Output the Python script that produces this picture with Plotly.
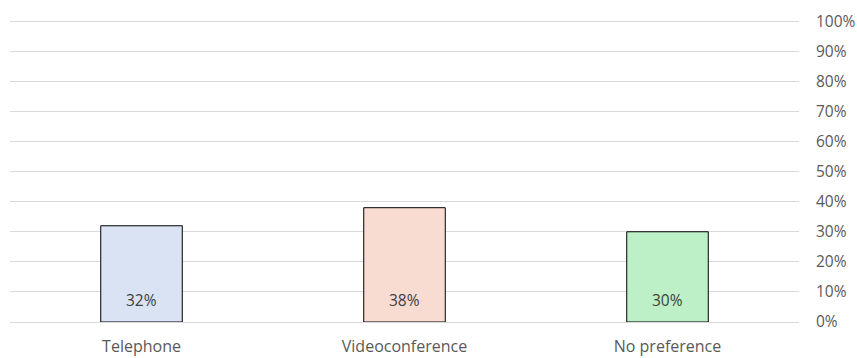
import plotly.graph_objects as go

categories = ["Telephone", "Videoconference", "No preference"]
values = [0.32, 0.38, 0.30]
labels = ["32%", "38%", "30%"]
colors = ["#DAE3F3", "#F8DCD2", "#BDF0C6"]

FONT = "Open Sans"
fig = go.Figure()
fig.add_trace(go.Bar(
    x=categories, y=values, width=0.31,
    marker=dict(color=colors, line=dict(color="#000000", width=1)),
    hoverinfo="skip",
))
for c, v, t in zip(categories, values, labels):
    fig.add_annotation(x=c, y=0, text=t, showarrow=False, yanchor="bottom",
                       yshift=9, font=dict(size=15.5, color="#404040", family=FONT))

fig.update_layout(
    width=857, height=358,
    margin=dict(l=10, r=58, t=20, b=36),
    paper_bgcolor="white", plot_bgcolor="white",
    showlegend=False,
    font=dict(family=FONT, size=15.5, color="#595959"),
    bargap=0.69,
)
fig.update_xaxes(showgrid=False, showline=True, linecolor="#D9D9D9", linewidth=1,
                 ticks="", ticklabelstandoff=10, automargin=False,
                 tickfont=dict(size=16, color="#595959", family=FONT), fixedrange=True)
fig.update_yaxes(side="right", range=[0, 1.004], tickvals=[i / 10 for i in range(11)],
                 tickformat=".0%", automargin=False,
                 showgrid=True, gridcolor="#D9D9D9", gridwidth=1, zeroline=False,
                 ticklabelstandoff=16, tickfont=dict(size=15.5, color="#595959", family=FONT),
                 showline=False, fixedrange=True)
fig.write_html("out.html")
